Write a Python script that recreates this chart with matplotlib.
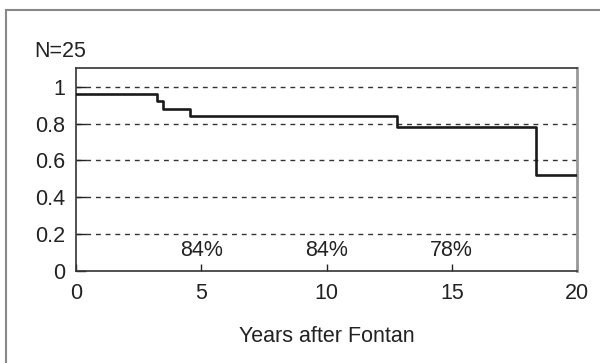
import matplotlib
matplotlib.use("Agg")
import matplotlib.pyplot as plt
from matplotlib.lines import Line2D

plt.rcParams["font.family"] = ["Liberation Sans", "DejaVu Sans"]

# Kaplan-Meier style step curve (years after Fontan, survival fraction)
times = [0, 3.24, 3.47, 4.56, 12.83, 18.36, 20]
survival = [0.96, 0.92, 0.88, 0.84, 0.78, 0.52, 0.52]

label_years = [5, 10, 15]
label_texts = ["84%", "84%", "78%"]

x_ticks = [0, 5, 10, 15, 20]
y_ticks = [0, 0.2, 0.4, 0.6, 0.8, 1]
y_ticklabels = ["0", "0.2", "0.4", "0.6", "0.8", "1"]

TEXT = "#222222"
FS = 15.5

fig = plt.figure(figsize=(6.0, 3.63), dpi=100)
ax = fig.add_axes([0.1267, 0.2543, 0.835, 0.5575])

# dashed horizontal grid
for y in y_ticks[1:]:
    ax.axhline(y, color="#333333", linewidth=1.0, linestyle=(0, (3.5, 3.5)), zorder=1)

ax.step(times, survival, where="post", color="#1a1a1a", linewidth=1.9, zorder=3)

for xv, txt in zip(label_years, label_texts):
    ax.text(xv, 0.112, txt, ha="center", va="center", fontsize=FS, color=TEXT)

ax.set_xlim(0, 20)
ax.set_ylim(0, 1.1)
ax.set_xticks(x_ticks)
ax.set_yticks(y_ticks)
ax.set_yticklabels(y_ticklabels)
ax.tick_params(axis="both", direction="in", labelsize=FS, colors=TEXT)
ax.tick_params(axis="x", length=5, width=1, pad=9)
ax.tick_params(axis="y", length=7, width=1, pad=8)

for name, spine in ax.spines.items():
    spine.set_color("#333333")
    spine.set_linewidth(1.2)
ax.spines["right"].set_color("#999999")
ax.spines["right"].set_linewidth(2)

ax.set_xlabel("Years after Fontan", fontsize=FS, color=TEXT, labelpad=16)
fig.text(0.1, 0.857, "N=25", ha="center", va="center", fontsize=FS, color=TEXT)

# outer frame (top and left edges visible)
fig.add_artist(Line2D([0.01, 1.0], [1 - 10 / 363, 1 - 10 / 363],
                      transform=fig.transFigure, color="#888888", linewidth=1.5))
fig.add_artist(Line2D([0.01, 0.01], [0.0, 1 - 10 / 363],
                      transform=fig.transFigure, color="#888888", linewidth=1.5))

fig.savefig("out.png", dpi=100, facecolor="white")
